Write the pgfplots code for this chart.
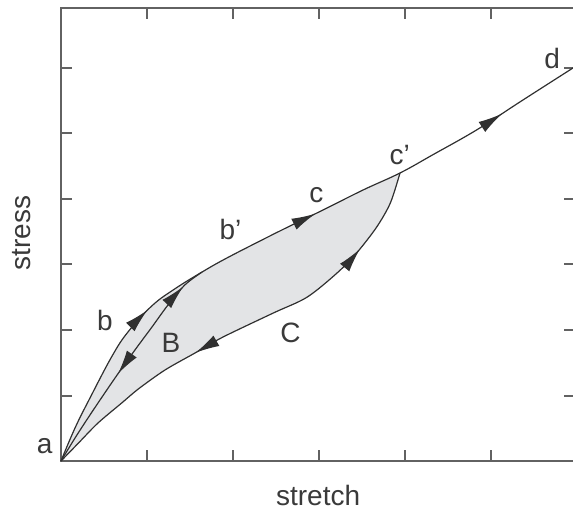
\documentclass[border=0pt]{standalone}
\usepackage{fontspec}
\setmainfont{Liberation Sans}
\usepackage{pgfplots}
\pgfplotsset{compat=1.18}
\usepgfplotslibrary{fillbetween}
\usetikzlibrary{decorations.markings,arrows.meta}
\definecolor{axgray}{HTML}{626262}
\definecolor{curvec}{HTML}{303030}
\definecolor{loopc}{HTML}{E3E4E6}
\definecolor{txt}{HTML}{3A3A3A}
\tikzset{
  ah/.tip={Latex[length=12pt,width=6pt]},
  lbl/.style={text=txt, font=\fontsize{14}{16}\selectfont, inner sep=0pt},
}
\begin{document}
\begin{tikzpicture}
\begin{axis}[
  at={(0,0)}, anchor=south west, scale only axis,
  width=257pt, height=226.5pt,
  xmin=0, xmax=5.977, ymin=0, ymax=6.916,
  xtick={1,2,3,4,5}, ytick={1,2,3,4,5,6},
  xticklabels={}, yticklabels={},
  tick align=inside, major tick length=5.5pt,
  axis line style={axgray, line width=1pt},
  tick style={axgray, line width=1pt},
  clip=false,
]
% invisible boundaries of the shaded loop
\addplot[name path=U, draw=none, smooth, tension=0.65]
  coordinates {(0,0) (0.163,0.504) (0.337,0.962) (0.593,1.60) (0.779,1.97) (1.058,2.37) (1.326,2.63) (1.64,2.885) (1.907,3.084) (2.314,3.359) (2.663,3.588) (3.047,3.832) (3.512,4.137) (3.942,4.397)};
\addplot[name path=L, draw=none, smooth, tension=0.5]
  coordinates {(0,0) (0.20,0.27) (0.43,0.58) (0.71,0.89) (0.90,1.10) (1.21,1.39) (1.56,1.65) (1.88,1.89) (2.47,2.26) (2.86,2.50) (3.21,2.87) (3.44,3.18) (3.67,3.57) (3.83,3.94) (3.942,4.397)};
\addplot[loopc, draw=none] fill between[of=U and L];
% loading curve a - b - b' - c - c' - d
\addplot[curvec, line width=0.6pt, smooth, tension=0.65,
  postaction={decorate},
  decoration={markings,
    mark=at position 0.262 with {\arrow[curvec]{ah}},
    mark=at position 0.553 with {\arrow[curvec]{ah}},
    mark=at position 0.87 with {\arrow[curvec]{ah}}}]
  coordinates {(0,0) (0.163,0.504) (0.337,0.962) (0.593,1.60) (0.779,1.97) (1.058,2.37) (1.326,2.63) (1.64,2.885) (1.907,3.084) (2.314,3.359) (2.663,3.588) (3.047,3.832) (3.512,4.137) (3.942,4.397) (4.33,4.68) (4.84,5.06) (5.37,5.51) (5.977,6.02)};
% curve B
\addplot[curvec, line width=0.6pt, smooth, tension=0.5,
  postaction={decorate},
  decoration={markings,
    mark=at position 0.44 with {\arrowreversed[curvec]{ah}},
    mark=at position 0.90 with {\arrow[curvec]{ah}}}]
  coordinates {(0,0) (0.163,0.351) (0.36,0.748) (0.628,1.267) (0.86,1.695) (1.058,2.046) (1.244,2.382) (1.442,2.69) (1.64,2.885)};
% curve C
\addplot[curvec, line width=0.6pt, smooth, tension=0.5,
  postaction={decorate},
  decoration={markings,
    mark=at position 0.38 with {\arrowreversed[curvec]{ah}},
    mark=at position 0.81 with {\arrow[curvec]{ah}}}]
  coordinates {(0,0) (0.20,0.27) (0.43,0.58) (0.71,0.89) (0.90,1.10) (1.21,1.39) (1.56,1.65) (1.88,1.89) (2.47,2.26) (2.86,2.50) (3.21,2.87) (3.44,3.18) (3.67,3.57) (3.83,3.94) (3.942,4.397)};
\node[lbl] at (axis cs:-0.19,0.23) {a};
\node[lbl] at (axis cs:0.51,2.14) {b};
\node[lbl] at (axis cs:1.28,1.80) {B};
\node[lbl] at (axis cs:1.97,3.53) {b'};
\node[lbl] at (axis cs:2.97,4.06) {c};
\node[lbl] at (axis cs:2.67,1.95) {C};
\node[lbl] at (axis cs:3.94,4.67) {c'};
\node[lbl] at (axis cs:5.71,6.15) {d};
\node[lbl] at (axis cs:2.99,-0.52) {stretch};
\node[lbl, rotate=90] at (axis cs:-0.453,3.48) {stress};
\end{axis}
\pgfresetboundingbox
\path[use as bounding box] (-30.5pt,-24pt) rectangle (256pt,230.5pt);
\end{tikzpicture}
\end{document}
